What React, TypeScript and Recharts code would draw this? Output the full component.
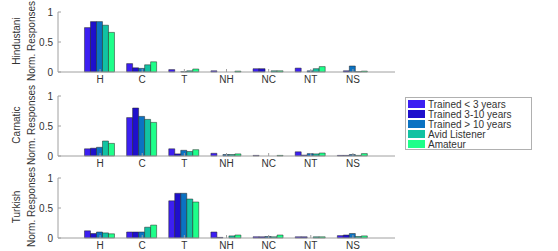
import React from 'react';
import { BarChart, Bar, XAxis, YAxis } from 'recharts';

const categories = ['H', 'C', 'T', 'NH', 'NC', 'NT', 'NS'];
const seriesNames = ['Trained < 3 years', 'Trained 3-10 years', 'Trained > 10 years', 'Avid Listener', 'Amateur'];
const seriesColors = ['#3c1ff2', '#1f0fcc', '#0b72c2', '#12c2a2', '#1eff8a'];
const yTicks = [0, 0.5, 1];

// one row per category, one value per listener group
const hindustani = [
  [0.74, 0.84, 0.84, 0.78, 0.66],
  [0.14, 0.07, 0.06, 0.12, 0.17],
  [0.04, 0, 0.005, 0.02, 0.05],
  [0.02, 0, 0, 0, 0.015],
  [0.055, 0.055, 0, 0.02, 0.02],
  [0.065, 0, 0.02, 0.055, 0.09],
  [0, 0.02, 0.1, 0.005, 0.015],
];
const carnatic = [
  [0.12, 0.13, 0.145, 0.25, 0.21],
  [0.64, 0.8, 0.66, 0.61, 0.56],
  [0.12, 0.035, 0.095, 0.075, 0.105],
  [0.045, 0, 0.025, 0.025, 0.035],
  [0.01, 0, 0, 0, 0.01],
  [0.07, 0.015, 0.04, 0.035, 0.05],
  [0.01, 0.01, 0.025, 0.01, 0.04],
];
const turkish = [
  [0.12, 0.075, 0.1, 0.085, 0.07],
  [0.1, 0.1, 0.1, 0.18, 0.215],
  [0.62, 0.745, 0.745, 0.65, 0.6],
  [0.1, 0.01, 0, 0.035, 0.05],
  [0.02, 0.02, 0.025, 0.02, 0.05],
  [0.02, 0.02, 0, 0.02, 0.02],
  [0.04, 0.05, 0.075, 0.025, 0.035],
];

const panels = [
  { name: 'Hindustani', values: hindustani, top: 0 },
  { name: 'Carnatic', values: carnatic, top: 84 },
  { name: 'Turkish', values: turkish, top: 166 },
];

const font = '"Liberation Sans", Arial, sans-serif';
const axisGray = '#a0a0a0';
const textColor = '#333';

function toRows(values: number[][]) {
  return categories.map((cat, i) => {
    const row: any = { cat };
    values[i].forEach((v, j) => (row['s' + j] = v));
    return row;
  });
}

function Panel({ name, values, top }: { name: string; values: number[][]; top: number }) {
  const data = toRows(values);
  return (
    <div style={{ position: 'absolute', left: 0, top, width: 400, height: 85 }}>
      <BarChart
        width={400}
        height={85}
        data={data}
        margin={{ top: 12, right: 5, bottom: 0, left: 0 }}
        barCategoryGap="13%"
        barGap={0}
      >
        <XAxis
          dataKey="cat"
          padding={{ left: 21, right: 21 }}
          height={13}
          stroke={axisGray}
          tickSize={-3}
          tickMargin={7}
          tick={{ fill: textColor, fontSize: 10, fontFamily: font }}
        />
        <XAxis
          xAxisId="top"
          orientation="top"
          dataKey="cat"
          padding={{ left: 21, right: 21 }}
          height={0}
          stroke={axisGray}
          tickSize={-3}
          tick={false}
        />
        <YAxis
          domain={[0, 1]}
          ticks={yTicks}
          width={58}
          stroke={axisGray}
          tickSize={-3}
          tickMargin={8}
          tick={{ fill: textColor, fontSize: 10, fontFamily: font }}
        />
        <YAxis
          yAxisId="right"
          orientation="right"
          domain={[0, 1]}
          ticks={yTicks}
          width={0}
          stroke={axisGray}
          tickSize={-3}
          tick={false}
        />
        {seriesNames.map((s, j) => (
          <Bar
            key={s}
            dataKey={'s' + j}
            name={s}
            fill={seriesColors[j]}
            stroke="#222"
            strokeWidth={0.5}
            isAnimationActive={false}
          />
        ))}
      </BarChart>
      <div
        style={{
          position: 'absolute',
          left: 24,
          top: 41,
          width: 0,
          height: 0,
          fontFamily: font,
          fontSize: 10,
          color: textColor,
          lineHeight: '15px',
        }}
      >
        <div
          style={{
            position: 'absolute',
            transform: 'translate(-50%, -50%) rotate(-90deg)',
            whiteSpace: 'nowrap',
            textAlign: 'center',
          }}
        >
          <div>{name}</div>
          <div>Norm. Responses</div>
        </div>
      </div>
    </div>
  );
}

export default function App() {
  return (
    <div
      style={{
        position: 'absolute',
        left: 0,
        top: 0,
        width: 558,
        height: 251,
        background: '#fff',
        fontFamily: font,
      }}
    >
      {panels.map((p) => (
        <Panel key={p.name} name={p.name} values={p.values} top={p.top} />
      ))}
      <div
        style={{
          position: 'absolute',
          left: 405,
          top: 97,
          width: 127,
          height: 53,
          border: '1px solid #b0b0b0',
          background: '#fff',
          fontSize: 10,
          color: textColor,
          paddingTop: 1,
          boxSizing: 'border-box',
        }}
      >
        {seriesNames.map((s, j) => (
          <div key={s} style={{ display: 'flex', alignItems: 'center', height: 10, marginLeft: 2 }}>
            <span
              style={{
                display: 'inline-block',
                width: 17,
                height: 8,
                background: seriesColors[j],
                marginRight: 3,
              }}
            />
            <span style={{ whiteSpace: 'nowrap' }}>{s}</span>
          </div>
        ))}
      </div>
    </div>
  );
}
